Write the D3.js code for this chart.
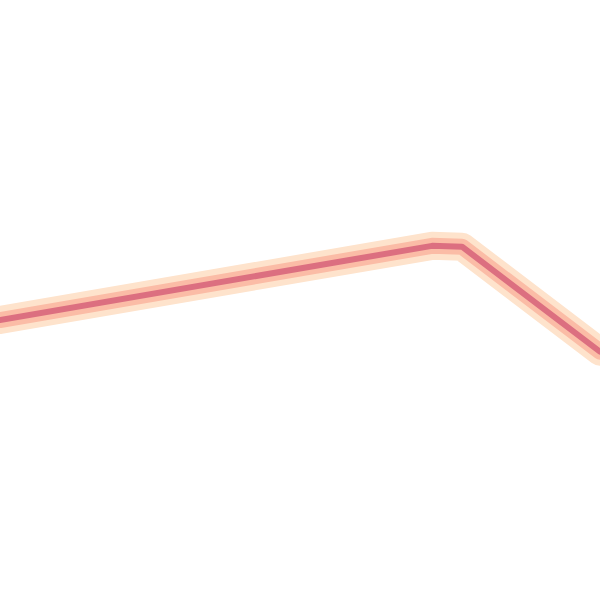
<!DOCTYPE html>
<html>
<head>
<meta charset="utf-8">
<script src="https://cdn.jsdelivr.net/npm/d3@7"></script>
<style>
  html, body { margin: 0; padding: 0; background: #fff; }
</style>
</head>
<body>
<div id="chart"></div>
<script>
// series (x in steps, y in value units)
const steps = [0, 72, 77, 100];
const values = [27.6, 36.5, 36.4, 23.8];

const width = 600, height = 600;

let x = d3.scaleLinear()
    .domain([0, 100])
    .range([0, width]);

let y = d3.scaleLinear()
    .domain([0, 60])
    .range([height - 50, 50]);

let data = steps.map((s, i) => ({ step: s, value: values[i] }));

let line = d3.line()
    .x(d => x(d.step))
    .y(d => y(d.value))
    .curve(d3.curveLinear);

let svg = d3.select("#chart")
    .append("svg")
    .attr("width", width)
    .attr("height", height)
    .attr("viewBox", [0, 0, width, height]);

// glow layers, widest first
let layers = [
    { w: 28, c: "#fee3cc" },
    { w: 16, c: "#fbbca6" },
    { w: 6,  c: "#dc6f80" }
];

svg.selectAll("path.layer")
    .data(layers)
    .join("path")
    .attr("class", "layer")
    .attr("d", line(data))
    .attr("fill", "none")
    .attr("stroke", d => d.c)
    .attr("stroke-width", d => d.w)
    .attr("stroke-linejoin", "round")
    .attr("stroke-linecap", "round");
</script>
</body>
</html>
